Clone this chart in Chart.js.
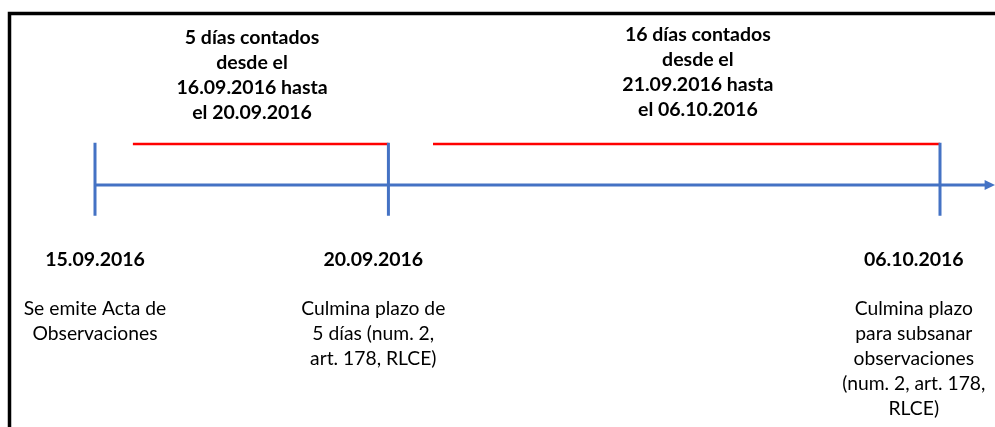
<!DOCTYPE html>
<html>
<head>
<meta charset="utf-8">
<script src="https://cdn.jsdelivr.net/npm/chart.js@4/dist/chart.umd.min.js"></script>
<style>
  html, body { margin: 0; padding: 0; background: #fff; }
  #wrap { width: 995px; height: 427px; position: relative; }
</style>
</head>
<body>
<div id="wrap"><canvas id="c"></canvas></div>
<script>
// ---- Schematic timeline data (x in schematic units, not to scale) ----
const eventDates = ["15.09.2016", "20.09.2016", "06.10.2016"];
const eventPos = [0, 10.07, 29];
const eventLabelPos = [0, 9.55, 28.1];
const eventDescriptions = [
  ["Se emite Acta de", "Observaciones"],
  ["Culmina plazo de", "5 días (num. 2,", "art. 178, RLCE)"],
  ["Culmina plazo", "para subsanar", "observaciones", "(num. 2, art. 178,", "RLCE)"]
];
const periodStart = [1.3, 11.6];
const periodEnd = [10.07, 29];
const periodLabelPos = [5.39, 20.69];
const periodLabels = [
  ["5 días contados", "desde el", "16.09.2016 hasta", "el 20.09.2016"],
  ["16 días contados", "desde el", "21.09.2016 hasta", "el 06.10.2016"]
];
const axisStart = 0;
const axisEnd = 30.6;
const axisTip = 30.89;

// vertical levels (schematic units)
const levelTickTop = 1.03;
const levelTickBottom = -0.75;
const levelPeriod = 1.0;
const levelPeriodText = [3.59, 3.66];
const levelDate = -1.83;
const levelDesc = -3.02;
const lineStep = 25 / 41;

const BLUE = "#4472C4";
const RED = "#FF0000";
const FONT = "Lato, 'Open Sans', sans-serif";

const datasets = [];
datasets.push({
  data: [{x: axisStart, y: 0}, {x: axisEnd, y: 0}],
  borderColor: BLUE, borderWidth: 3, showLine: true, pointRadius: 0
});
eventPos.forEach(p => datasets.push({
  data: [{x: p, y: levelTickTop}, {x: p, y: levelTickBottom}],
  borderColor: BLUE, borderWidth: 3, showLine: true, pointRadius: 0
}));
periodStart.forEach((s, i) => datasets.push({
  data: [{x: s, y: levelPeriod}, {x: periodEnd[i], y: levelPeriod}],
  borderColor: RED, borderWidth: 2.5, showLine: true, pointRadius: 0
}));

const annotatePlugin = {
  id: "annotate",
  beforeDraw(chart) {
    const ctx = chart.ctx;
    ctx.save();
    ctx.fillStyle = "#fff";
    ctx.fillRect(0, 0, chart.width, chart.height);
    // frame
    ctx.strokeStyle = "#000";
    ctx.lineWidth = 3.5;
    ctx.beginPath();
    ctx.moveTo(chart.width, 13.5);
    ctx.lineTo(9.5, 13.5);
    ctx.lineTo(9.5, chart.height);
    ctx.stroke();
    ctx.restore();
  },
  afterDatasetsDraw(chart) {
    const ctx = chart.ctx;
    const xs = chart.scales.x, ys = chart.scales.y;
    ctx.save();
    // arrow head
    const tipX = xs.getPixelForValue(axisTip);
    const baseX = xs.getPixelForValue(axisEnd) - 2;
    const y0 = ys.getPixelForValue(0);
    ctx.fillStyle = BLUE;
    ctx.beginPath();
    ctx.moveTo(tipX, y0);
    ctx.lineTo(baseX, y0 - 5);
    ctx.lineTo(baseX, y0 + 5);
    ctx.closePath();
    ctx.fill();

    ctx.fillStyle = "#000";
    ctx.textAlign = "center";
    ctx.textBaseline = "middle";
    // period labels
    ctx.font = "bold 19.5px " + FONT;
    periodLabels.forEach((lines, i) => {
      const x = xs.getPixelForValue(periodLabelPos[i]);
      lines.forEach((t, j) => {
        ctx.fillText(t, x, ys.getPixelForValue(levelPeriodText[i] - j * lineStep));
      });
    });
    // dates
    eventDates.forEach((d, i) => {
      ctx.fillText(d, xs.getPixelForValue(eventLabelPos[i]), ys.getPixelForValue(levelDate));
    });
    // descriptions
    ctx.font = "19.3px " + FONT;
    eventDescriptions.forEach((lines, i) => {
      const x = xs.getPixelForValue(eventLabelPos[i]);
      lines.forEach((t, j) => {
        ctx.fillText(t, x, ys.getPixelForValue(levelDesc - j * lineStep));
      });
    });
    ctx.restore();
  }
};

new Chart(document.getElementById("c"), {
  type: "scatter",
  data: { datasets },
  options: {
    responsive: true,
    maintainAspectRatio: false,
    animation: false,
    layout: { padding: 0 },
    plugins: { legend: { display: false }, tooltip: { enabled: false } },
    scales: {
      x: { type: "linear", display: false, min: -95 / 29.138, max: 900 / 29.138 },
      y: { type: "linear", display: false, min: -242 / 41, max: 185 / 41 }
    }
  },
  plugins: [annotatePlugin]
});
</script>
</body>
</html>
